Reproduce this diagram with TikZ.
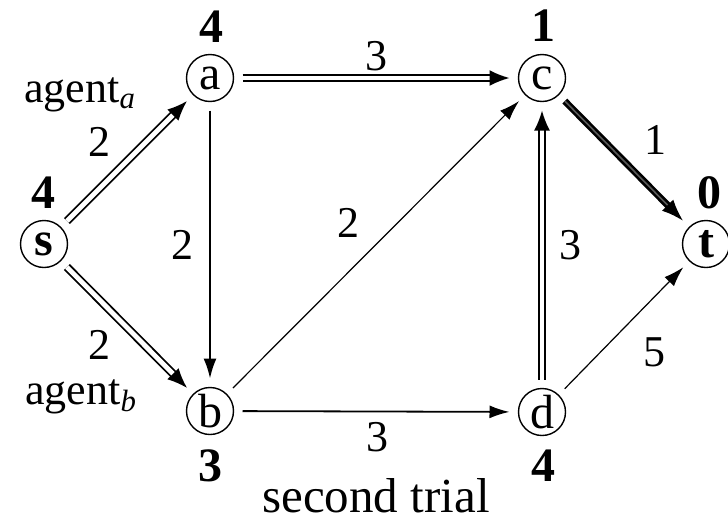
\documentclass[tikz,border=0pt]{standalone}
\usepackage{fontspec}
\setmainfont{Liberation Serif}
\usetikzlibrary{arrows.meta}
\tikzset{
    vertex/.style={circle, draw, line width=0.7pt, minimum size=23.5pt, inner sep=0pt, outer sep=4.5pt, font=\fontsize{24}{24}\selectfont},
    valuelabel/.style={inner sep=0.5pt, font=\fontsize{24}{24}\selectfont\bfseries},
    weightlabel/.style={inner sep=1pt, font=\fontsize{22}{22}\selectfont},
    agentlabel/.style={anchor=base west, inner sep=1pt, font=\fontsize{22}{22}\selectfont},
    arc/.style={-{Latex[length=10pt, width=6.5pt]}, line width=0.9pt},
    thinarc/.style={arc, line width=0.6pt},
    dblarc/.style={-{Latex[length=10pt, width=8pt]}, line width=0.9pt, double, double distance=2.4pt},
    heavyarc/.style={-{Latex[length=11pt, width=8pt]}, line width=1.3pt, double=black!65, double distance=0.8pt}
}

\begin{document}
\begin{tikzpicture}[x=0.5pt, y=-0.5pt]
    \useasboundingbox (0,0) rectangle (728,520);

    % Vertices
    \node[vertex] (s) at (44,244) {\textbf{s}};
    \node[vertex] (a) at (210,78) {a};
    \node[vertex] (b) at (210,411) {b};
    \node[vertex] (c) at (542,78) {c};
    \node[vertex] (d) at (542,412) {d};
    \node[vertex] (t) at (706,244) {\textbf{t}};

    % Values
    \node[valuelabel] (vs) at (44,193) {4};
    \node[valuelabel] (va) at (211,27) {4};
    \node[valuelabel] (vc) at (543,26) {1};
    \node[valuelabel] (vt) at (709,193) {0};
    \node[valuelabel] (vb) at (210,466) {3};
    \node[valuelabel] (vd) at (543,466) {4};

    % Arcs
    \draw[dblarc] (s) -- (a);
    \draw[dblarc] (s) -- (b);
    \draw[dblarc] (a) -- (c);
    \draw[dblarc] (d) -- (c);
    \draw[heavyarc] (c) -- (t);
    \draw[arc] (a) -- (b);
    \draw[arc] (b) -- (d);
    \draw[thinarc] (b) -- (c);
    \draw[thinarc] (d) -- (t);

    % Weights
    \node[weightlabel] (wsa) at (99,142) {2};
    \node[weightlabel] (wsb) at (99,345) {2};
    \node[weightlabel] (wab) at (182,245) {2};
    \node[weightlabel] (wbc) at (348,223) {2};
    \node[weightlabel] (wac) at (376,56) {3};
    \node[weightlabel] (wct) at (655,140) {1};
    \node[weightlabel] (wdc) at (570,245) {3};
    \node[weightlabel] (wdt) at (654,352) {5};
    \node[weightlabel] (wbd) at (377,437) {3};

    % Agents and caption
    \node[agentlabel] (agenta) at (22,102) {agent\textsubscript{\textit{a}}};
    \node[agentlabel] (agentb) at (23,404) {agent\textsubscript{\textit{b}}};
    \node[anchor=base, font=\fontsize{24.5}{24.5}\selectfont] (caption) at (376,512) {second trial};
\end{tikzpicture}
\end{document}
